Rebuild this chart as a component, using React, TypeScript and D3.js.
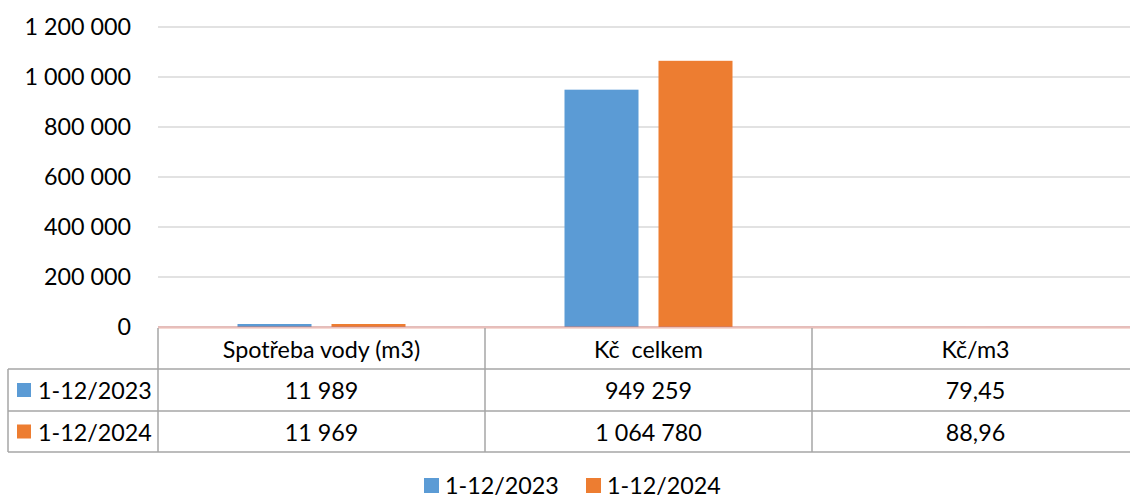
import React from "react";
import * as d3 from "d3";

const categories = ["Spotřeba vody (m3)", "Kč  celkem", "Kč/m3"];
const seriesNames = ["1-12/2023", "1-12/2024"];
const values2023 = [11989, 949259, 79.45];
const values2024 = [11969, 1064780, 88.96];
const decimals = [0, 0, 2];
const colors = ["#5b9bd5", "#ed7d31"];
const yTicks = [0, 200000, 400000, 600000, 800000, 1000000, 1200000];

const W = 1130;
const H = 499;
const FONT = "Lato, 'Liberation Sans', sans-serif";
const FS = 23.3;

const locale = d3.formatLocale({ decimal: ",", thousands: "\u00a0", grouping: [3], currency: ["", ""] });
const fmt0 = locale.format(",.0f");
const fmt2 = locale.format(",.2f");

export default function App() {
  const plotL = 158;
  const plotR = 1139;
  const y = d3.scaleLinear().domain([0, 1200000]).range([327, 27]);
  const x = d3.scaleBand<string>().domain(categories).range([plotL, plotR]).paddingInner(0).paddingOuter(0);
  const cw = x.bandwidth();
  const groupW = 168;
  const x1 = d3
    .scaleBand<string>()
    .domain(seriesNames)
    .range([(cw - groupW) / 2, (cw + groupW) / 2])
    .paddingInner(20 / 94)
    .paddingOuter(0);
  const series = [values2023, values2024];

  const headerTop = 328;
  const rowYs = [328, 369, 411, 452];
  const gridColor = "#d9d9d9";
  const tableColor = "#a6a6a6";

  return (
    <svg width={W} height={H} style={{ position: "absolute", left: 0, top: 0, background: "#fff", whiteSpace: "pre" }} fontFamily={FONT}>
      {/* gridlines */}
      {yTicks.filter((t) => t > 0).map((t) => (
        <line key={t} x1={plotL} x2={W} y1={y(t)} y2={y(t)} stroke={gridColor} strokeWidth={1.5} />
      ))}
      {/* y tick labels */}
      {yTicks.map((t) => (
        <text key={t} x={131} y={y(t) - 1} textAnchor="end" dominantBaseline="central" fontSize={FS} fill="#000">
          {fmt0(t)}
        </text>
      ))}
      {/* bars */}
      {categories.map((c, i) => (
        <g key={c} transform={`translate(${x(c)},0)`}>
          {series.map((vals, s) => (
            <rect
              key={s}
              x={x1(seriesNames[s])}
              y={y(vals[i])}
              width={x1.bandwidth()}
              height={y(0) - y(vals[i])}
              fill={colors[s]}
            />
          ))}
        </g>
      ))}
      {/* axis line */}
      <line x1={plotL} x2={W} y1={327} y2={327} stroke="#c97a74" strokeWidth={1} />
      <line x1={plotL} x2={W} y1={328.2} y2={328.2} stroke="#f2c9c0" strokeWidth={1} />
      {/* data table */}
      <g stroke={tableColor} strokeWidth={1.5}>
        <line x1={plotL} x2={plotL} y1={headerTop} y2={rowYs[3]} />
        <line x1={8} x2={8} y1={rowYs[1]} y2={rowYs[3]} />
        {categories.slice(1).map((c) => (
          <line key={c} x1={x(c)} x2={x(c)} y1={headerTop} y2={rowYs[3]} />
        ))}
        {rowYs.slice(1).map((ry) => (
          <line key={ry} x1={8} x2={W} y1={ry} y2={ry} />
        ))}
      </g>
      {categories.map((c) => (
        <text key={c} x={(x(c) as number) + cw / 2} y={(rowYs[0] + rowYs[1]) / 2} textAnchor="middle" dominantBaseline="central" fontSize={FS} style={{ whiteSpace: "pre" }}>
          {c}
        </text>
      ))}
      {series.map((vals, s) => {
        const cy = (rowYs[s + 1] + rowYs[s + 2]) / 2;
        return (
          <g key={s}>
            <rect x={17} y={cy - 7} width={14} height={14} fill={colors[s]} />
            <text x={38} y={cy} dominantBaseline="central" fontSize={FS}>
              {seriesNames[s]}
            </text>
            {categories.map((c, i) => (
              <text key={c} x={(x(c) as number) + cw / 2} y={cy} textAnchor="middle" dominantBaseline="central" fontSize={FS}>
                {decimals[i] === 2 ? fmt2(vals[i]) : fmt0(vals[i])}
              </text>
            ))}
          </g>
        );
      })}
      {/* legend */}
      {seriesNames.map((n, s) => {
        const lx = s === 0 ? 424 : 586;
        return (
          <g key={n}>
            <rect x={lx} y={478} width={15} height={15} fill={colors[s]} />
            <text x={lx + 21} y={484.5} dominantBaseline="central" fontSize={FS}>
              {n}
            </text>
          </g>
        );
      })}
    </svg>
  );
}
